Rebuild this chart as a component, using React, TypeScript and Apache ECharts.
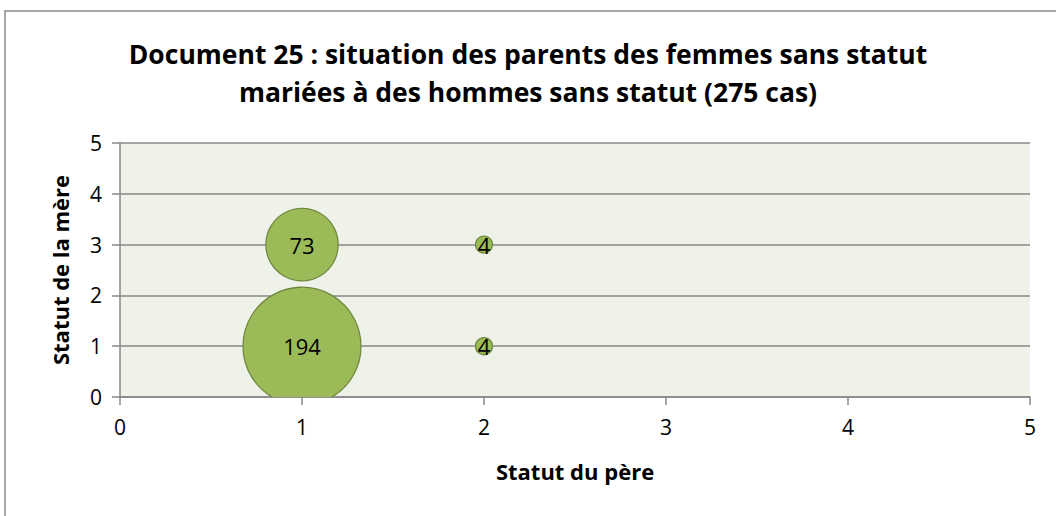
import React, { useEffect, useRef } from "react";
import * as echarts from "echarts";

const TITLE_LINES = [
  "Document 25 : situation des parents des femmes sans statut",
  "mariées à des hommes sans statut (275 cas)",
];
const X_NAME = "Statut du père";
const Y_NAME = "Statut de la mère";
const PERE = [1, 1, 2, 2];
const MERE = [1, 3, 3, 1];
const CAS = [194, 73, 4, 4];
const AXIS_MIN = 0;
const AXIS_MAX = 5;
const AXIS_STEP = 1;

const FONT = "'Open Sans', 'Noto Sans', sans-serif";
const MAX_DIAM = 118;

export default function App() {
  const ref = useRef<HTMLDivElement>(null);
  useEffect(() => {
    document.body.style.margin = "0";
    const chart = echarts.init(ref.current!, undefined, { renderer: "svg" });
    const maxV = Math.max(...CAS);
    const data = PERE.map((x, i) => [x, MERE[i], CAS[i]]);
    const axisCommon = {
      type: "value",
      min: AXIS_MIN,
      max: AXIS_MAX,
      interval: AXIS_STEP,
      axisLine: { show: true, lineStyle: { color: "#888888", width: 1.5 } },
      axisTick: { show: true, length: 8, inside: false, lineStyle: { color: "#888888", width: 1.5 } },
      axisLabel: { color: "#000", fontSize: 21, fontFamily: FONT },
      nameLocation: "middle",
      nameTextStyle: { color: "#000", fontSize: 22, fontWeight: "bold", fontFamily: FONT },
    };
    chart.setOption({
      animation: false,
      backgroundColor: "#ffffff",
      title: {
        text: TITLE_LINES.join("\n"),
        left: "center",
        top: 35,
        padding: 0,
        textStyle: { color: "#000", fontSize: 26.5, fontWeight: "bold", fontFamily: FONT, lineHeight: 38 },
      },
      graphic: [
        {
          type: "rect",
          shape: { x: 5, y: 11, width: 1200, height: 700 },
          style: { fill: "none", stroke: "#8a8a8a", lineWidth: 1.5 },
          z: 100,
        },
      ],
      grid: {
        left: 120,
        right: 26,
        top: 143,
        bottom: 119,
        show: true,
        backgroundColor: "#EFF2E9",
        borderWidth: 0,
      },
      xAxis: {
        ...axisCommon,
        name: X_NAME,
        nameGap: 63,
        splitLine: { show: false },
        axisLabel: { ...axisCommon.axisLabel, margin: 19 },
      },
      yAxis: {
        ...axisCommon,
        name: Y_NAME,
        nameGap: 49,
        nameRotate: 90,
        splitLine: { show: true, lineStyle: { color: "#888888", width: 1.5 } },
        axisLabel: { ...axisCommon.axisLabel, margin: 18 },
      },
      series: [
        {
          type: "custom",
          clip: true,
          encode: { x: 0, y: 1 },
          data,
          renderItem: (params: any, api: any) => {
            const pt = api.coord([api.value(0), api.value(1)]);
            const v = api.value(2);
            const r = (MAX_DIAM / 2) * Math.sqrt(v / maxV);
            return {
              type: "group",
              children: [
                {
                  type: "circle",
                  shape: { cx: pt[0], cy: pt[1], r },
                  style: { fill: "#9BBB59", stroke: "#71893F", lineWidth: 1.3 },
                },
                {
                  type: "text",
                  x: pt[0],
                  y: pt[1],
                  style: {
                    text: String(v),
                    align: "center",
                    verticalAlign: "middle",
                    fontSize: 22,
                    fontFamily: FONT,
                    fill: "#000",
                  },
                },
              ],
            };
          },
        },
      ],
    });
    return () => chart.dispose();
  }, []);
  return (
    <div
      ref={ref}
      style={{ position: "fixed", left: 0, top: 0, width: 1056, height: 516 }}
    />
  );
}
